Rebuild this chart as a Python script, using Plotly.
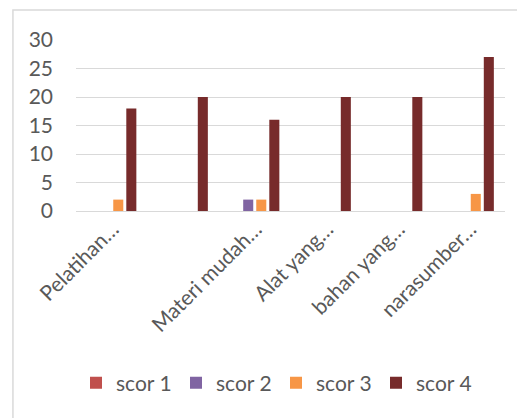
import plotly.graph_objects as go

categories = ["Pelatihan…", "", "Materi mudah…", "Alat yang…", "bahan yang…", "narasumber…"]
scor1 = [0, 0, 0, 0, 0, 0]
scor2 = [0, 0, 2, 0, 0, 0]
scor3 = [2, 0, 2, 0, 0, 3]
scor4 = [18, 20, 16, 20, 20, 27]
series_names = ["scor 1", "scor 2", "scor 3", "scor 4"]
colors = ["#C0504D", "#8064A2", "#F79646", "#772B2B"]
y_ticks = [0, 5, 10, 15, 20, 25, 30]

xpos = list(range(len(categories)))
fig = go.Figure()
for name, vals, c in zip(series_names, [scor1, scor2, scor3, scor4], colors):
    fig.add_trace(go.Bar(x=xpos, y=vals, name=name, marker=dict(color=c, line=dict(width=0))))

font = "Lato"
fs = 21
fig.update_layout(
    width=525, height=418,
    margin=dict(l=68, r=28, t=32, b=215, autoexpand=False),
    paper_bgcolor="white", plot_bgcolor="white",
    barmode="group", bargap=0.27, bargroupgap=0.23,
    font=dict(family=font, size=fs, color="#595959"),
    showlegend=True,
    legend=dict(orientation="h", x=0.0, xanchor="left", y=-1.006, yanchor="middle",
                font=dict(size=fs, color="#595959"), itemwidth=30,
                entrywidth=55, entrywidthmode="pixels",
                bgcolor="rgba(0,0,0,0)"),
    xaxis=dict(tickmode="array", tickvals=xpos, ticktext=categories, tickangle=-45,
               range=[-0.5, len(categories) - 0.5], showgrid=False, zeroline=False,
               showline=False, ticks="", ticklabelshift=1, ticklabelstandoff=1),
    yaxis=dict(range=[0, 30], tickvals=y_ticks, showgrid=True, gridcolor="#D9D9D9",
               gridwidth=1, zeroline=True, zerolinecolor="#D9D9D9", zerolinewidth=1,
               showline=False, ticks="", ticklabelstandoff=22),
    shapes=[dict(type="rect", xref="paper", yref="paper", x0=-0.147, x1=1.3, y0=-1.6, y1=1.175,
                 line=dict(color="#D9D9D9", width=1.5), layer="below")],
)
fig.write_html("out.html")
